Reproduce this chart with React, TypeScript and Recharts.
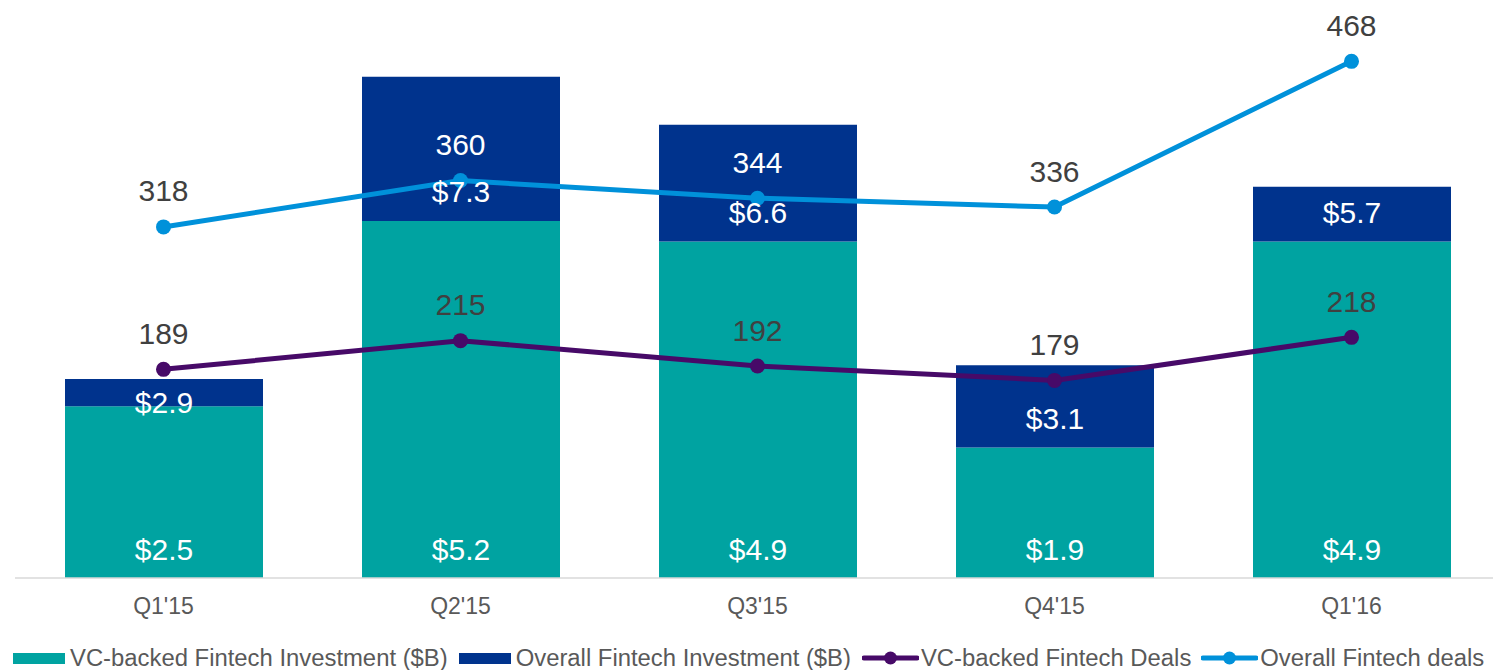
import React from "react";
import { ComposedChart, Bar, Line, XAxis, YAxis, LabelList } from "recharts";

const quarters = ["Q1'15", "Q2'15", "Q3'15", "Q4'15", "Q1'16"];
const vcInvestment = [2.5, 5.2, 4.9, 1.9, 4.9];
const overallInvestment = [2.9, 7.3, 6.6, 3.1, 5.7];
const vcDeals = [189, 215, 192, 179, 218];
const overallDeals = [318, 360, 344, 336, 468];

const TEAL = "#00A3A1";
const NAVY = "#00338D";
const PURPLE = "#470A68";
const BLUE = "#0091DA";
const FONT = "'Liberation Sans', Arial, sans-serif";

const data = quarters.map((q, i) => ({
  q,
  vc: vcInvestment[i],
  rest: overallInvestment[i] - vcInvestment[i],
  vcDeals: vcDeals[i],
  overallDeals: overallDeals[i],
}));

const legendItems = [
  { label: "VC-backed Fintech Investment ($B)", color: TEAL, kind: "bar" },
  { label: "Overall Fintech Investment ($B)", color: NAVY, kind: "bar" },
  { label: "VC-backed Fintech Deals", color: PURPLE, kind: "line" },
  { label: "Overall Fintech deals", color: BLUE, kind: "line" },
];

const money = (v: number) => `$${v.toFixed(1)}`;

// teal segment label sits near the base
const vcLabel = (p: any) => {
  const { x, y, width, height, index } = p;
  return (
    <text x={x + width / 2} y={y + height - 29} textAnchor="middle" dominantBaseline="central"
      fill="#fff" fontSize={30} fontFamily={FONT}>
      {money(vcInvestment[index])}
    </text>
  );
};

// navy segment shows the overall total
const overallLabel = (p: any) => {
  const { x, y, width, height, index } = p;
  const bottom = y + height;
  const cy = height > 50 ? bottom - 29 : bottom - 4;
  return (
    <text x={x + width / 2} y={cy} textAnchor="middle" dominantBaseline="central"
      fill="#fff" fontSize={30} fontFamily={FONT}>
      {money(overallInvestment[index])}
    </text>
  );
};

const dealLabel = (whiteIdx: number[]) => (p: any) => {
  const { x, y, value, index } = p;
  return (
    <text x={x} y={y - 36} textAnchor="middle" dominantBaseline="central"
      fill={whiteIdx.includes(index) ? "#fff" : "#404040"} fontSize={30} fontFamily={FONT}>
      {value}
    </text>
  );
};

export default function App() {
  return (
    <div style={{ position: "absolute", left: 0, top: 0, width: 1493, height: 670, overflow: "hidden", background: "#fff" }}>
      <ComposedChart width={1500} height={670} data={data} margin={{ top: 26, right: 0, left: 15, bottom: 52 }}>
        <XAxis dataKey="q" height={40} tickLine={false} tickSize={0} tickMargin={20}
          axisLine={{ stroke: "#d9d9d9", strokeWidth: 1.5 }}
          tick={{ fill: "#595959", fontSize: 23, fontFamily: FONT }} />
        <YAxis yAxisId="left" domain={[0, 8.04]} hide />
        <YAxis yAxisId="right" orientation="right" domain={[0, 500]} hide />
        <Bar yAxisId="left" dataKey="vc" stackId="a" fill={TEAL} barSize={198} isAnimationActive={false}>
          <LabelList dataKey="vc" content={vcLabel} />
        </Bar>
        <Bar yAxisId="left" dataKey="rest" stackId="a" fill={NAVY} barSize={198} isAnimationActive={false}>
          <LabelList dataKey="rest" content={overallLabel} />
        </Bar>
        <Line yAxisId="right" type="linear" dataKey="vcDeals" stroke={PURPLE} strokeWidth={5}
          dot={{ r: 7.5, fill: PURPLE, stroke: "none" }} activeDot={false} isAnimationActive={false}>
          <LabelList dataKey="vcDeals" content={dealLabel([])} />
        </Line>
        <Line yAxisId="right" type="linear" dataKey="overallDeals" stroke={BLUE} strokeWidth={5}
          dot={{ r: 7.5, fill: BLUE, stroke: "none" }} activeDot={false} isAnimationActive={false}>
          <LabelList dataKey="overallDeals" content={dealLabel([1, 2])} />
        </Line>
      </ComposedChart>

      {/* legend */}
      <div style={{ position: "absolute", left: 13, top: 644, display: "flex", alignItems: "center", fontFamily: FONT, fontSize: 23.85, color: "#595959", whiteSpace: "nowrap" }}>
        {legendItems.map((it) => (
          <div key={it.label} style={{ display: "flex", alignItems: "center", marginRight: it.kind === "bar" ? 11 : 10 }}>
            {it.kind === "bar" ? (
              <div style={{ width: 52, height: 11, background: it.color, marginRight: 5 }} />
            ) : (
              <svg width={57} height={16} style={{ marginRight: 2 }}>
                <line x1={2} y1={8} x2={55} y2={8} stroke={it.color} strokeWidth={5} strokeLinecap="round" />
                <circle cx={28.5} cy={8} r={6.5} fill={it.color} />
              </svg>
            )}
            <span>{it.label}</span>
          </div>
        ))}
      </div>
    </div>
  );
}
